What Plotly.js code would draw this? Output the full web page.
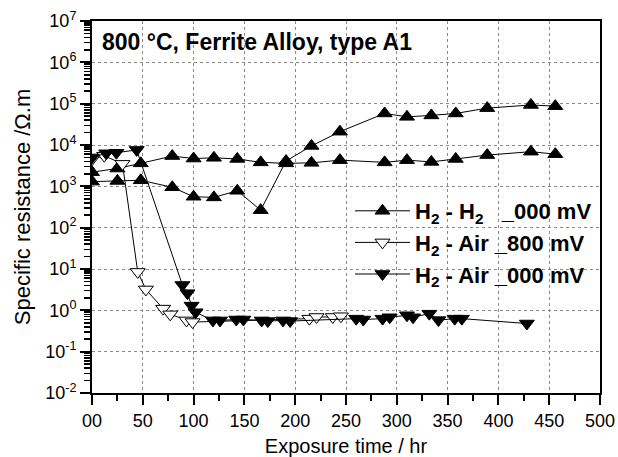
<!DOCTYPE html>
<html>
<head>
<meta charset="utf-8">
<script src="https://cdn.plot.ly/plotly-3.0.1.min.js"></script>
<style>html,body{margin:0;padding:0;background:#fff;}#chart{width:618px;height:457px;}</style>
</head>
<body>
<div id="chart"></div>
<script>
// H2 - H2 _000 mV (two filled up-triangle curves)
const timeH2H2 = [0, 25, 48, 79, 100, 120, 143, 166, 191, 216, 244, 288, 310, 334, 358, 389, 432, 456];
const resH2H2_rising = [1300, 1350, 1400, 950, 560, 540, 780, 265, 4100, 9500, 21000, 58000, 48000, 52000, 58000, 78000, 93000, 87000];
const resH2H2_flat = [2200, 2700, 3600, 5400, 4700, 4900, 4600, 3800, 3600, 3700, 4300, 3800, 4300, 3900, 4600, 5700, 6900, 6000];

// H2 - Air _800 mV (open down-triangles)
const timeAir800 = [0, 12, 30, 45, 53, 70, 77, 93, 99, 214, 221, 237, 245];
const resAir800 = [4500, 5500, 3500, 8.5, 3.2, 1.1, 0.8, 0.57, 0.52, 0.63, 0.69, 0.69, 0.72];

// H2 - Air _000 mV (filled down-triangles)
const timeAir000 = [0, 14, 24, 44, 89, 94, 98, 102, 119, 126, 142, 149, 167, 173, 188, 195, 260, 267, 286, 293, 310, 316, 332, 341, 357, 364, 428];
const resAir000 = [5000, 6300, 6500, 7600, 4.1, 2.6, 1.3, 0.9, 0.57, 0.57, 0.6, 0.6, 0.57, 0.55, 0.57, 0.55, 0.63, 0.6, 0.63, 0.68, 0.76, 0.68, 0.83, 0.58, 0.63, 0.63, 0.48];

const legendNames = [
  "H<sub>2</sub> - H<sub>2</sub>\u00A0\u00A0 _000 mV",
  "H<sub>2</sub> - Air _800 mV",
  "H<sub>2</sub> - Air _000 mV"
];

const xTickVals = [0, 50, 100, 150, 200, 250, 300, 350, 400, 450, 500];
const xTickText = ["00", "50", "100", "150", "200", "250", "300", "350", "400", "450", "500"];
const yTickVals = [1e-2, 1e-1, 1e0, 1e1, 1e2, 1e3, 1e4, 1e5, 1e6, 1e7];
const yTickText = ["10<sup>-2</sup>", "10<sup>-1</sup>", "10<sup>0</sup>", "10<sup>1</sup>", "10<sup>2</sup>", "10<sup>3</sup>", "10<sup>4</sup>", "10<sup>5</sup>", "10<sup>6</sup>", "10<sup>7</sup>"];

const FONT = "Arial, 'Liberation Sans', sans-serif";
const lineStyle = {color: "black", width: 1};

const traces = [
  {x: timeH2H2, y: resH2H2_rising, name: legendNames[0], mode: "lines+markers", line: lineStyle,
   marker: {symbol: "triangle-up", size: 13, color: "black", line: {color: "black", width: 1}}},
  {x: timeH2H2, y: resH2H2_flat, name: legendNames[0], showlegend: false, mode: "lines+markers", line: lineStyle,
   marker: {symbol: "triangle-up", size: 13, color: "black", line: {color: "black", width: 1}}},
  {x: timeAir800, y: resAir800, name: legendNames[1], mode: "lines+markers", line: lineStyle,
   marker: {symbol: "triangle-down", size: 13, color: "white", line: {color: "black", width: 1}}},
  {x: timeAir000, y: resAir000, name: legendNames[2], mode: "lines+markers", line: lineStyle,
   marker: {symbol: "triangle-down", size: 13, color: "black", line: {color: "black", width: 1}}}
];

const layout = {
  width: 618, height: 457,
  margin: {l: 92, r: 18, t: 21, b: 64},
  paper_bgcolor: "white", plot_bgcolor: "white",
  font: {family: FONT, color: "black", size: 18},
  title: {text: "<b>800 °C, Ferrite Alloy, type A1</b>", font: {family: FONT, size: 23, color: "black"},
          x: 102 / 618, xref: "container", xanchor: "left", y: 1 - 42 / 457, yref: "container", yanchor: "middle"},
  showlegend: true,
  legend: {x: (350 - 92) / 508, xanchor: "left", y: (393 - 190) / 372, yanchor: "top",
           bgcolor: "rgba(0,0,0,0)", borderwidth: 0, itemwidth: 55,
           font: {family: FONT, size: 22, color: "black", weight: "bold"}},
  xaxis: {
    range: [0, 500], tickmode: "array", tickvals: xTickVals, ticktext: xTickText,
    ticks: "outside", ticklen: 10, tickwidth: 2, tickcolor: "black",
    showline: true, linecolor: "black", linewidth: 2, mirror: true,
    showgrid: true, gridcolor: "#8a8a8a", griddash: "dot", gridwidth: 1,
    zeroline: false,
    minor: {dtick: 25, ticks: "outside", ticklen: 6, tickwidth: 2, tickcolor: "black", showgrid: false},
    tickfont: {family: FONT, size: 18, color: "black"},
    title: {text: "Exposure time / hr", font: {family: FONT, size: 20, color: "black"}, standoff: 12}
  },
  yaxis: {
    type: "log", range: [-2, 7], tickmode: "array", tickvals: yTickVals, ticktext: yTickText,
    ticks: "outside", ticklen: 10, tickwidth: 2, tickcolor: "black",
    showline: true, linecolor: "black", linewidth: 2, mirror: true,
    showgrid: true, gridcolor: "#8a8a8a", griddash: "dot", gridwidth: 1,
    zeroline: false,
    minor: {dtick: "D1", ticks: "outside", ticklen: 6, tickwidth: 1.5, tickcolor: "black", showgrid: false},
    tickfont: {family: FONT, size: 18, color: "black"},
    title: {text: "Specific resistance /Ω.m", font: {family: FONT, size: 22, color: "black"}, standoff: 8}
  }
};

Plotly.newPlot("chart", traces, layout, {displayModeBar: false, staticPlot: true});
</script>
</body>
</html>
